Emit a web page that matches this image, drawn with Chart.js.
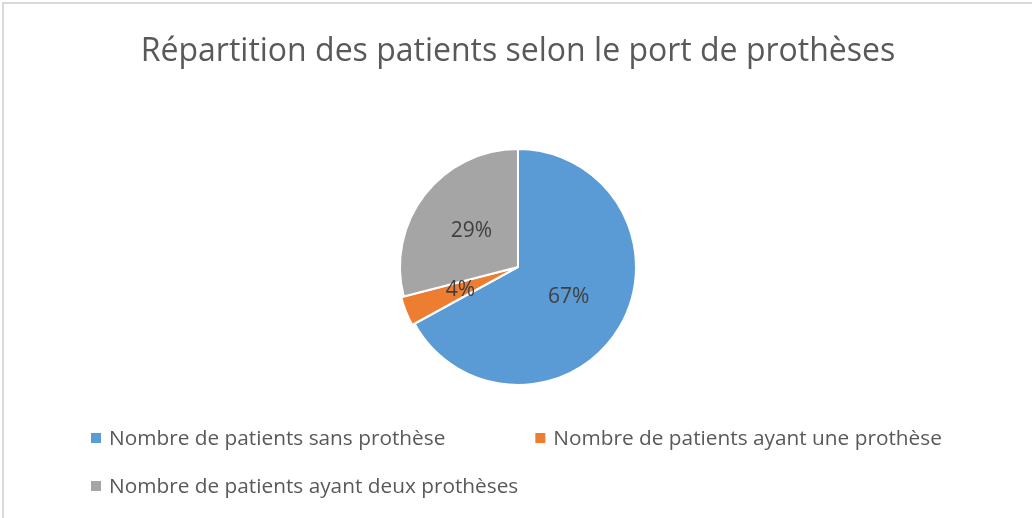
<!DOCTYPE html>
<html>
<head>
<meta charset="utf-8">
<script src="https://cdn.jsdelivr.net/npm/chart.js@4/dist/chart.umd.min.js"></script>
<style>
    html, body { margin: 0; padding: 0; background: #fff; }
    #wrap { position: relative; width: 1032px; height: 518px; }
    #frame { position: absolute; left: 2px; top: 2px; right: 0; bottom: 0;
             border-top: 2px solid #d9d9d9; border-left: 2px solid #d9d9d9; }
    canvas { position: absolute; left: 0; top: 0; }
</style>
</head>
<body>
<div id="wrap">
    <div id="frame"></div>
    <canvas id="pie" width="1032" height="518"></canvas>
</div>
<script>
    var categories = ['Nombre de patients sans prothèse', 'Nombre de patients ayant une prothèse', 'Nombre de patients ayant deux prothèses'];
    var values = [67, 4, 29];
    var colors = ['#5B9BD5', '#ED7D31', '#A5A5A5'];
    var titleText = 'Répartition des patients selon le port de prothèses';

    var fontName = '"Open Sans", "Liberation Sans", sans-serif';

    // percent labels inside slices
    var sliceLabels = {
        id: 'sliceLabels',
        afterDatasetsDraw: function (chart) {
            var ctx = chart.ctx;
            var meta = chart.getDatasetMeta(0);
            var total = values.reduce(function (a, b) { return a + b; }, 0);
            ctx.save();
            ctx.font = '21px ' + fontName;
            ctx.fillStyle = '#404040';
            ctx.textAlign = 'center';
            ctx.textBaseline = 'middle';
            meta.data.forEach(function (arc, i) {
                var p = arc.tooltipPosition();
                ctx.fillText(Math.round(values[i] / total * 100) + '%', p.x, p.y);
            });
            ctx.restore();
        }
    };

    // legend laid out like the office one: wide gap between items, rows left aligned
    var bottomLegend = {
        id: 'bottomLegend',
        afterDraw: function (chart) {
            var ctx = chart.ctx;
            var startX = 91, x = startX, y = 438;
            var box = 10, textGap = 8, itemGap = 90, rowH = 48;
            ctx.save();
            ctx.font = '20.8px ' + fontName;
            ctx.textBaseline = 'middle';
            ctx.textAlign = 'left';
            categories.forEach(function (name, i) {
                var w = box + textGap + ctx.measureText(name).width;
                if (i > 0 && x + w > chart.width - 60) {
                    x = startX;
                    y += rowH;
                }
                ctx.fillStyle = colors[i];
                ctx.fillRect(x, y - box / 2, box, box);
                ctx.fillStyle = '#595959';
                ctx.fillText(name, x + box + textGap, y + 1);
                x += w + itemGap;
            });
            ctx.restore();
        }
    };

    var chart = new Chart(document.getElementById('pie').getContext('2d'), {
        type: 'pie',
        data: {
            labels: categories,
            datasets: [{
                data: values,
                backgroundColor: colors,
                borderColor: '#ffffff',
                borderWidth: 2,
                offset: [0, 6, 0]
            }]
        },
        options: {
            responsive: false,
            animation: false,
            layout: { padding: { top: 0, bottom: 129, left: 4, right: 0 } },
            plugins: {
                legend: { display: false },
                tooltip: { enabled: false },
                title: {
                    display: true,
                    text: titleText,
                    color: '#595959',
                    font: { family: fontName, size: 32, weight: 'normal' },
                    padding: { top: 33, bottom: 73.6 }
                }
            }
        },
        plugins: [sliceLabels, bottomLegend]
    });
</script>
</body>
</html>
